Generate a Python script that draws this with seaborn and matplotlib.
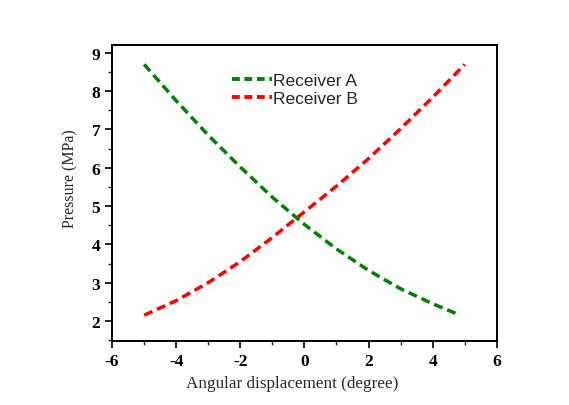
import matplotlib
matplotlib.use("Agg")
import matplotlib.pyplot as plt
import seaborn as sns
import pandas as pd
from matplotlib.ticker import MultipleLocator

# Data
angle_a = [-5, -4, -3, -2, -1, 0, 1, 2, 3, 4, 4.8]
pressure_a = [8.70, 7.75, 6.85, 6.02, 5.23, 4.52, 3.88, 3.32, 2.84, 2.45, 2.17]
angle_b = [-5, -4, -3, -2, -1, 0, 1, 2, 3, 4, 5]
pressure_b = [2.15, 2.53, 3.00, 3.55, 4.18, 4.85, 5.52, 6.24, 7.02, 7.84, 8.70]
series_names = ["Receiver A", "Receiver B"]
series_colors = ["#008000", "#ff0000"]

df = pd.concat([
    pd.DataFrame({"angle": angle_a, "pressure": pressure_a, "series": series_names[0]}),
    pd.DataFrame({"angle": angle_b, "pressure": pressure_b, "series": series_names[1]}),
], ignore_index=True)

sns.set_theme(style="ticks")
plt.rcParams["font.family"] = ["Liberation Serif", "DejaVu Serif"]
plt.rcParams["axes.unicode_minus"] = False

fig = plt.figure(figsize=(5.69, 4.06), dpi=100)
ax = fig.add_axes([0.197, 0.158, 0.676, 0.729])

sns.lineplot(data=df, x="angle", y="pressure", hue="series", style="series",
             palette=dict(zip(series_names, series_colors)),
             dashes={n: (2.6, 1.45) for n in series_names},
             linewidth=2.5, sort=False, estimator=None, ax=ax)
for ln in ax.get_lines():
    ln.set_dash_capstyle("butt")

ax.set_xlim(-6, 6)
ax.set_ylim(1.48, 9.21)
ax.xaxis.set_major_locator(MultipleLocator(2))
ax.xaxis.set_minor_locator(MultipleLocator(1))
ax.yaxis.set_major_locator(MultipleLocator(1))
ax.yaxis.set_minor_locator(MultipleLocator(0.5))
ax.tick_params(which="major", direction="out", length=5, width=1.2, labelsize=12.5, colors="black")
ax.tick_params(which="minor", direction="out", length=3, width=1.0)
for lab in ax.get_xticklabels() + ax.get_yticklabels():
    lab.set_fontweight("bold")
for sp in ax.spines.values():
    sp.set_visible(True)
    sp.set_linewidth(1.4)
    sp.set_color("black")

ax.set_xlabel("Angular displacement (degree)", fontsize=12.3, labelpad=6)
ax.xaxis.set_label_coords(0.468, -0.115)
ax.set_ylabel("Pressure (MPa)", fontsize=11.5, labelpad=8)
ax.yaxis.set_label_coords(-0.088, 0.55)

handles, labels = ax.get_legend_handles_labels()
leg = ax.legend(handles, labels, loc="upper left", bbox_to_anchor=(0.29, 0.935),
                frameon=False, borderpad=0, handlelength=2.3, handletextpad=0.05,
                labelspacing=0.15, prop={"family": "Liberation Sans", "size": 12.5})
for h in leg.get_lines():
    h.set_linewidth(2.8)
    h.set_dashes((2.0, 1.2))
    h.set_dash_capstyle("butt")

fig.savefig("out.png", dpi=100, facecolor="white")
